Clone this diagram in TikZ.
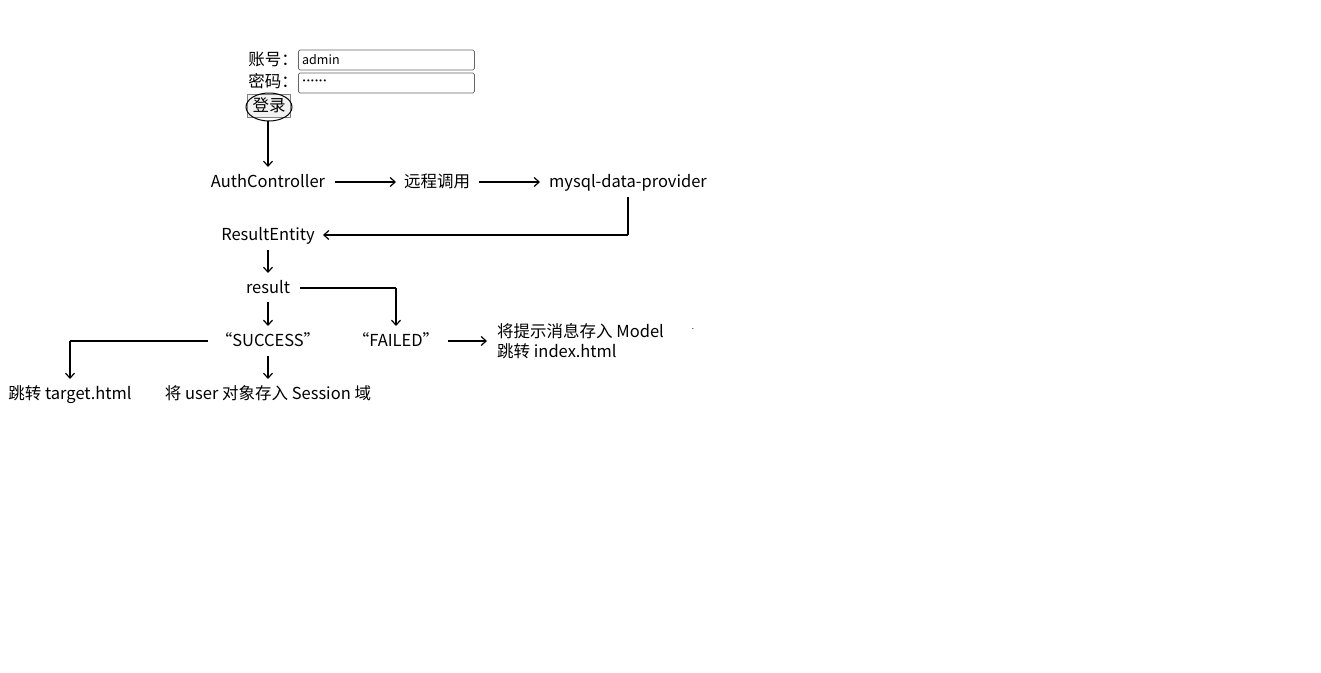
\documentclass[tikz,border=0pt]{standalone}
\usepackage{fontspec}
\setmainfont{Noto Sans CJK SC}
\newfontfamily\bulletfont{DejaVu Sans}
\usetikzlibrary{arrows.meta}
\begin{document}
\begin{tikzpicture}[x=1pt,y=-1pt,
  lbl/.style={inner sep=0pt,text height=13pt,text depth=1.5pt,font=\fontsize{16.5}{20}\selectfont},
  con/.style={line width=1.2pt,-{Straight Barb[length=5pt,width=9pt]}},
  ln/.style={line width=1.2pt},
  field/.style={draw=black!60,line width=0.8pt,rounded corners=1.5pt,minimum width=176pt,minimum height=20pt,inner sep=0pt}]
\useasboundingbox (0,0) rectangle (1321,672);
% login form
\node[lbl,anchor=east] (lu) at (298,60) {账号：};
\node[lbl,anchor=east] (lp) at (298,82) {密码：};
\node[field,anchor=west] (fu) at (298,60) {};
\node[field,anchor=west] (fp) at (298,83) {};
\node[anchor=west,inner sep=0pt,font=\fontsize{12.5}{14}\selectfont] (tu) at (302,60) {admin};
\node[anchor=west,inner sep=0pt,font=\bulletfont\fontsize{7}{10}\selectfont] (tp) at (302,82) {••••••};
\node[draw=black!50,fill=black!5,line width=0.8pt,minimum width=43pt,minimum height=23pt,inner sep=0pt] (btnr) at (269,106) {};
\node[lbl] (btn) at (269,106) {登录};
\draw[line width=1pt] (269,107) ellipse [x radius=23, y radius=14];
\coordinate (btnb) at (268,121);
% flow
\node[lbl] (auth) at (268,182) {AuthController};
\node[lbl] (rpc) at (437,182) {远程调用};
\node[lbl] (mysql) at (628,182) {mysql-data-provider};
\node[lbl] (re) at (268,235) {ResultEntity};
\node[lbl] (res) at (268,288) {result};
\node[lbl] (succ) at (268,341) {“SUCCESS”};
\node[lbl] (fail) at (396,341) {“FAILED”};
\node[lbl] (tgt) at (70,394) {跳转 target.html};
\node[lbl] (sess) at (268,394) {将 user 对象存入 Session 域};
\node[inner sep=0pt,font=\fontsize{16.5}{20}\selectfont,anchor=west,align=left] (model) at (497,341) {将提示消息存入 Model\\跳转 index.html};
\node[inner sep=0pt,font=\fontsize{8}{9}\selectfont] (dot) at (693,329) {.};
% connectors
\draw[con] (btnb) -- (268,167);
\draw[con] (335,182) -- (396,182);
\draw[con] (479,182) -- (540,182);
\draw[ln] (628,197) -- (628,235);
\draw[con] (628,235) -- (323,235);
\draw[con] (268,250) -- (268,273);
\draw[ln] (300,288) -- (396,288);
\draw[con] (396,288) -- (396,326);
\draw[con] (268,302) -- (268,326);
\draw[ln] (208,341) -- (70,341);
\draw[con] (70,341) -- (70,379);
\draw[con] (268,356) -- (268,379);
\draw[con] (448,341) -- (487,341);
\end{tikzpicture}
\end{document}
